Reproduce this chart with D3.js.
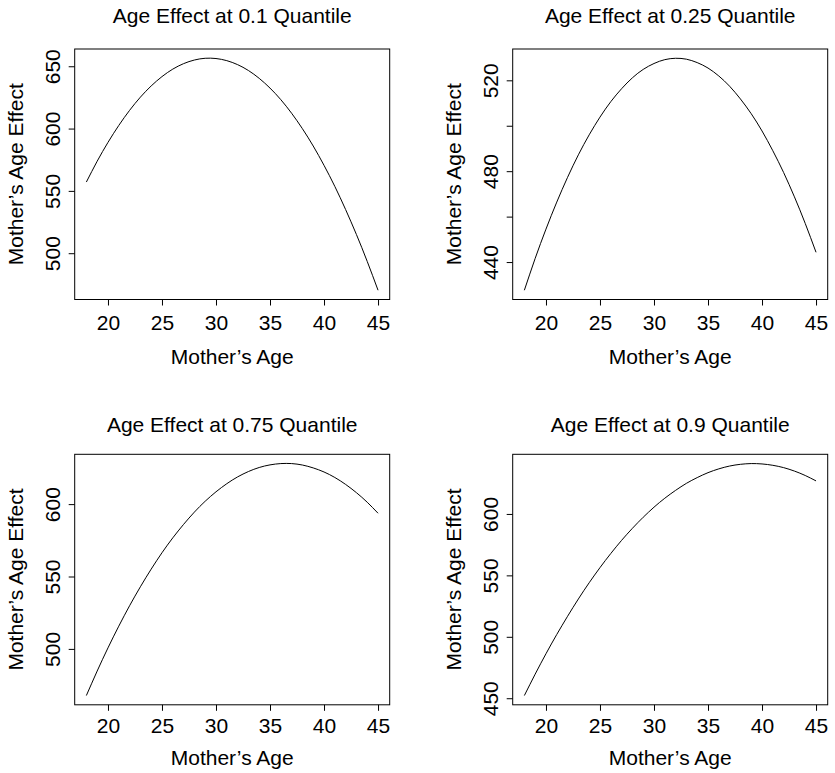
<!DOCTYPE html>
<html>
<head>
<meta charset="utf-8">
<script src="https://cdn.jsdelivr.net/npm/d3@7"></script>
<style>
  body { margin: 0; background: white; }
  svg { display: block; }
  text { font-family: "Liberation Sans", Arial, Helvetica, sans-serif; font-size: 21px; fill: black; }
</style>
</head>
<body>
<svg id="chart" width="835" height="773"></svg>
<script>
// data

const ages = [18, 19, 20, 21, 22, 23, 24, 25, 26, 27, 28, 29, 30, 31,
  32, 33, 34, 35, 36, 37, 38, 39, 40, 41, 42, 43, 44, 45];

const quantiles = ['0.1', '0.25', '0.75', '0.9'];

const effectQ10 = [557.1, 573.8, 588.9, 602.5, 614.6, 625.2, 634.2, 641.7, 647.7, 652.1,
  655.0, 656.4, 656.2, 654.5, 651.3, 646.6, 640.3, 632.5, 623.2, 612.3,
  599.9, 586.0, 570.5, 553.6, 535.0, 515.0, 493.4, 470.3];

const effectQ25 = [427.6, 441.6, 454.5, 466.4, 477.3, 487.2, 496.0, 503.8, 510.6, 516.3,
  521.1, 524.8, 527.4, 529.1, 529.7, 529.3, 527.8, 525.4, 521.9, 517.4,
  511.8, 505.3, 497.7, 489.0, 479.4, 468.7, 457.0, 444.3];

const effectQ75 = [467.8, 484.7, 500.7, 515.7, 529.8, 542.9, 555.1, 566.4, 576.7, 586.0,
  594.5, 602.0, 608.5, 614.1, 618.8, 622.5, 625.3, 627.1, 628.0, 628.0,
  627.0, 625.0, 622.2, 618.4, 613.6, 607.9, 601.3, 593.7];

const effectQ90 = [452.2, 469.6, 486.2, 501.9, 516.7, 530.8, 544.0, 556.3, 567.8, 578.5,
  588.3, 597.3, 605.5, 612.8, 619.2, 624.9, 629.6, 633.6, 636.7, 639.0,
  640.4, 641.0, 640.7, 639.6, 637.7, 634.9, 631.3, 626.9];

const xTicks = [20, 25, 30, 35, 40, 45];
const yTicksQ10 = [500, 550, 600, 650];
const yTicksQ25 = [440, 460, 480, 500, 520];
const yLabelsQ25 = [440, 480, 520]; // R drops the overlapping ones
const yTicksQ75 = [500, 550, 600];
const yTicksQ90 = [450, 500, 550, 600];

const panels = [
  { q: quantiles[0], values: effectQ10, yTicks: yTicksQ10, yLabels: yTicksQ10 },
  { q: quantiles[1], values: effectQ25, yTicks: yTicksQ25, yLabels: yLabelsQ25 },
  { q: quantiles[2], values: effectQ75, yTicks: yTicksQ75, yLabels: yTicksQ75 },
  { q: quantiles[3], values: effectQ90, yTicks: yTicksQ90, yLabels: yTicksQ90 }
];

// text offsets per row of panels (title above box, tick labels and label below)
const rowOffsets = [
  { title: 25.7, tickPad: 9.7, xLabel: 64 },
  { title: 22.6, tickPad: 7.6, xLabel: 60.5 }
];

// one panel, reusable chart style

function agePanel() {
  let width = 315;
  let height = 250.5;

  // R style padding of the data range
  const pad = ext => {
    const r = ext[1] - ext[0];
    return [ext[0] - 0.04 * r, ext[1] + 0.04 * r];
  };

  function chart(selection) {
    selection.each(function(d, i) {
      const g = d3.select(this);
      const off = rowOffsets[Math.floor(i / 2)];

      const x = d3.scaleLinear()
          .domain(pad(d3.extent(ages)))
          .range([0, width]);

      const y = d3.scaleLinear()
          .domain(pad(d3.extent(d.values)))
          .range([height, 0]);

      // axes

      g.append('g')
          .attr('class', 'x axis')
          .attr('transform', `translate(0, ${height})`)
          .call(d3.axisBottom(x).tickValues(xTicks).tickSize(6).tickPadding(off.tickPad))
          .call(a => a.select('.domain').remove())
          .call(a => a.selectAll('text').attr('font-size', null).attr('font-family', null))
          .call(a => a.selectAll('line').attr('stroke', '#000'));

      g.append('g')
          .attr('class', 'y axis')
          .call(d3.axisLeft(y).tickValues(d.yTicks).tickSize(6)
            .tickFormat(t => d.yLabels.includes(t) ? t : ''))
          .call(a => a.select('.domain').remove())
          .call(a => a.selectAll('line').attr('stroke', '#000'))
          .call(a => a.selectAll('text')
              .attr('font-size', null)
              .attr('font-family', null)
              .attr('x', 0)
              .attr('y', -14.7)
              .attr('dy', null)
              .attr('text-anchor', 'middle')
              .attr('transform', 'rotate(-90)'));

      // box

      g.append('rect')
          .attr('width', width)
          .attr('height', height)
          .attr('fill', 'none')
          .attr('stroke', '#000')
          .attr('stroke-width', 1);

      // curve

      const line = d3.line()
          .x((v, k) => x(ages[k]))
          .y(v => y(v))
          .curve(d3.curveNatural);

      g.append('path')
          .datum(d.values)
          .attr('fill', 'none')
          .attr('stroke', '#000')
          .attr('stroke-width', 1)
          .attr('d', line);

      // titles

      g.append('text')
          .attr('x', width / 2)
          .attr('y', -off.title)
          .attr('text-anchor', 'middle')
          .text(`Age Effect at ${d.q} Quantile`);

      g.append('text')
          .attr('x', width / 2)
          .attr('y', height + off.xLabel)
          .attr('text-anchor', 'middle')
          .text('Mother\u2019s Age');

      g.append('text')
          .attr('transform', `translate(-51.4, ${height / 2}) rotate(-90)`)
          .attr('text-anchor', 'middle')
          .text('Mother\u2019s Age Effect');
    });
  }

  return chart;
}

const svg = d3.select('#chart');

svg.selectAll('.panel')
  .data(panels)
  .join('g')
    .attr('class', 'panel')
    .attr('transform', (d, i) => `translate(${74.7 + (i % 2) * 438}, ${49 + Math.floor(i / 2) * 405.3})`)
    .call(agePanel());
</script>
</body>
</html>
